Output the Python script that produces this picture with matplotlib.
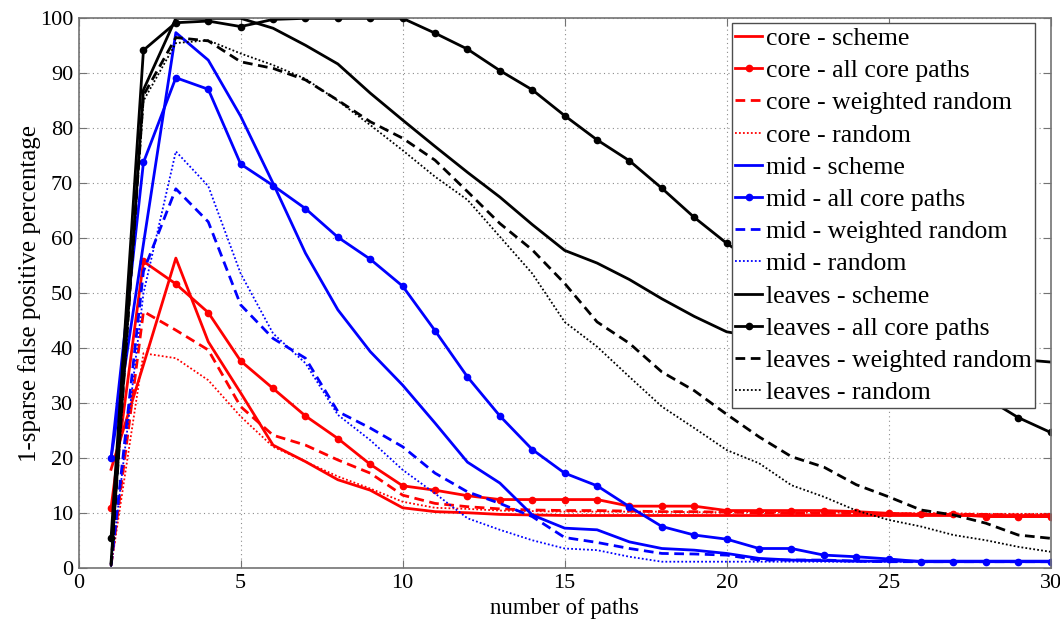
import matplotlib
matplotlib.use("Agg")
import matplotlib.pyplot as plt

plt.rcParams['font.family'] = ['Liberation Serif', 'DejaVu Serif']

# number of paths
paths = list(range(1, 31))

# core
core_scheme = [18, 37, 56.4, 41.2, 31.9, 22.4, 19.4, 16.1, 14.2, 11.0,
               10.3, 10.1, 9.8, 9.7, 9.6, 9.6, 9.6, 9.6, 9.6, 9.6,
               9.6, 9.6, 9.6, 9.6, 9.6, 9.6, 9.6, 9.6, 9.6, 9.6]
core_all = [11, 55.8, 51.7, 46.5, 37.7, 32.7, 27.7, 23.6, 18.9, 15.0,
            14.2, 13.2, 12.5, 12.5, 12.5, 12.5, 11.3, 11.3, 11.3, 10.5,
            10.5, 10.5, 10.5, 10.3, 10.0, 9.8, 9.8, 9.4, 9.4, 9.4]
core_weighted = [0.5, 46.7, 43.3, 39.7, 29.4, 24.2, 22.4, 19.7, 17.3, 13.3,
                 11.8, 11.2, 10.8, 10.6, 10.5, 10.5, 10.4, 10.3, 10.3, 10.2,
                 10.1, 10.0, 10.0, 10.0, 9.9, 9.9, 9.8, 9.8, 9.7, 9.7]
core_random = [0.3, 39.1, 38.2, 34.2, 27.6, 22.1, 19.4, 16.7, 14.5, 12.1,
               11.0, 10.8, 10.5, 10.4, 10.3, 10.3, 10.3, 10.3, 10.2, 10.2,
               10.2, 10.1, 10.1, 10.1, 10.0, 10.0, 10.0, 9.9, 9.9, 9.9]

# mid
mid_scheme = [20, 59, 97.4, 92.4, 82.2, 70.0, 57.3, 47.0, 39.4, 33.3,
              26.4, 19.3, 15.5, 9.7, 7.3, 7.0, 4.8, 3.6, 3.3, 2.7,
              1.8, 1.5, 1.4, 1.3, 1.3, 1.3, 1.3, 1.3, 1.3, 1.3]
mid_all = [20, 73.8, 89.2, 87.1, 73.5, 69.6, 65.4, 60.2, 56.2, 51.3,
           43.2, 34.8, 27.7, 21.6, 17.3, 15.0, 11.2, 7.6, 6.05, 5.3,
           3.6, 3.6, 2.4, 2.1, 1.7, 1.2, 1.2, 1.2, 1.2, 1.2]
mid_weighted = [0.5, 54, 69.0, 63.0, 47.9, 41.8, 38.2, 28.5, 25.5, 22.1,
                17.3, 13.9, 11.8, 9.4, 5.6, 4.7, 3.6, 2.7, 2.6, 2.4,
                1.5, 1.5, 1.5, 1.3, 1.2, 1.2, 1.2, 1.2, 1.2, 1.2]
mid_random = [0.3, 50, 75.8, 69.5, 53.6, 42.7, 37.3, 27.9, 23.3, 17.9,
              13.6, 9.1, 7.0, 5.1, 3.6, 3.3, 2.1, 1.2, 1.2, 1.2,
              1.2, 1.2, 1.2, 1.2, 1.2, 1.2, 1.2, 1.2, 1.2, 1.2]

# leaves
leaves_scheme = [1, 87, 100, 100, 100, 98.2, 95.1, 91.7, 86.4, 81.5,
                 76.7, 72, 67.5, 62.5, 57.8, 55.5, 52.5, 49, 45.8, 43,
                 42, 41.5, 41, 40.5, 40, 39.5, 39, 38.5, 38, 37.5]
leaves_all = [5.5, 94.2, 99.2, 99.5, 98.5, 99.8, 100, 100, 100, 100,
              97.3, 94.4, 90.5, 87.0, 82.3, 77.9, 74.1, 69.1, 63.8, 59.1,
              55, 51, 47, 43.5, 40, 37, 34, 31, 27.4, 24.7]
leaves_weighted = [0.5, 86, 96.5, 95.9, 92.1, 90.9, 88.8, 85.1, 81.2, 78.2,
                   74.2, 68.5, 62.7, 57.9, 51.8, 44.8, 40.9, 35.7, 32.3, 28,
                   23.9, 20.3, 18.4, 15.2, 13.0, 10.6, 9.7, 8.2, 6.05, 5.45]
leaves_random = [0.3, 85, 95.5, 96, 93.6, 91.5, 89, 85, 80.6, 76,
                 71.2, 67, 60.3, 53.6, 44.8, 40.3, 34.8, 29.4, 25.5, 21.5,
                 19.1, 15.1, 13.0, 10.5, 8.8, 7.6, 6.05, 5.1, 3.9, 3.0]

series = [
    ("core - scheme", core_scheme, "red", "solid"),
    ("core - all core paths", core_all, "red", "dots"),
    ("core - weighted random", core_weighted, "red", "dashed"),
    ("core - random", core_random, "red", "dotted"),
    ("mid - scheme", mid_scheme, "blue", "solid"),
    ("mid - all core paths", mid_all, "blue", "dots"),
    ("mid - weighted random", mid_weighted, "blue", "dashed"),
    ("mid - random", mid_random, "blue", "dotted"),
    ("leaves - scheme", leaves_scheme, "black", "solid"),
    ("leaves - all core paths", leaves_all, "black", "dots"),
    ("leaves - weighted random", leaves_weighted, "black", "dashed"),
    ("leaves - random", leaves_random, "black", "dotted"),
]

fig = plt.figure(figsize=(10.6, 6.23), dpi=100)
ax = fig.add_axes([0.0742, 0.0878, 0.9170, 0.8828])

for label, ys, color, kind in series:
    if kind == "solid":
        ax.plot(paths, ys, color=color, lw=2, label=label)
    elif kind == "dots":
        ax.plot(paths, ys, color=color, lw=2, marker='o', markersize=4.5, label=label)
    elif kind == "dashed":
        ax.plot(paths, ys, color=color, lw=2, linestyle=(0, (3.5, 2)), label=label)
    else:
        ax.plot(paths, ys, color=color, lw=1.3, linestyle=(0, (1, 1.2)), label=label)

ax.set_xlim(0, 30)
ax.set_ylim(0, 100)
ax.set_xticks(range(0, 31, 5))
ax.set_yticks(range(0, 101, 10))
ax.grid(True, linestyle=(0, (1, 3)), color='0.55', lw=0.8)
ax.tick_params(direction='in', top=True, right=True, labelsize=16, length=6,
               color='0.45', pad=4)
for s in ax.spines.values():
    s.set_color('0.45')
    s.set_linewidth(1.2)

ax.set_xlabel("number of paths", fontsize=16.5, labelpad=4)
ax.set_ylabel("1-sparse false positive percentage", fontsize=18, labelpad=-1)

leg = ax.legend(loc='upper right', bbox_to_anchor=(0.984, 0.9915), fontsize=18.5,
                handlelength=1.05, handletextpad=0.12, labelspacing=0.36,
                borderaxespad=0, borderpad=0.15, fancybox=False, framealpha=1)
leg.get_frame().set_edgecolor('0.3')
leg.get_frame().set_linewidth(1)

fig.savefig("out.png", dpi=100)
